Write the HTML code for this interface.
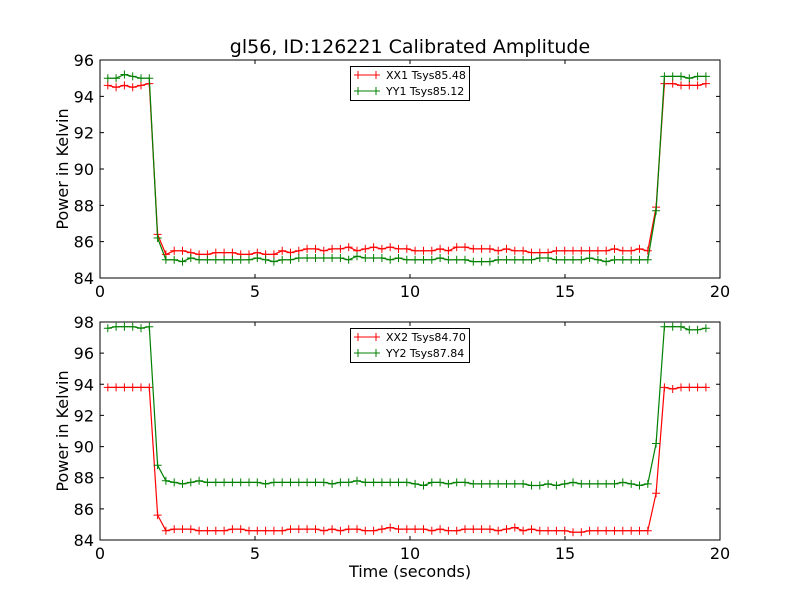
<!DOCTYPE html>
<html><head><meta charset="utf-8"><style>
body{margin:0;background:#fff}
svg{display:block;font-family:"DejaVu Sans","Liberation Sans",sans-serif}
</style></head><body>
<svg id="c" width="800" height="600">
<rect width="800" height="600" fill="#fff"/>
</svg>
<script>
// sampling grid (seconds)
const sampleStart = 0.25, sampleStep = 0.268, sampleCount = 73;
const xx1 = [94.6,94.5,94.6,94.5,94.6,94.7,86.4,
85.3,85.5,85.5,85.4,85.3,85.3,85.4,85.4,85.4,85.3,
85.3,85.4,85.3,85.3,85.5,85.4,85.5,85.6,85.6,85.5,
85.6,85.6,85.7,85.5,85.6,85.7,85.6,85.7,85.6,85.6,
85.5,85.5,85.5,85.6,85.5,85.7,85.7,85.6,85.6,85.6,
85.5,85.6,85.5,85.5,85.4,85.4,85.4,85.5,85.5,85.5,
85.5,85.5,85.5,85.5,85.6,85.5,85.5,85.6,85.5,
87.9,94.7,94.7,94.6,94.6,94.6,94.7];
const yy1 = [95.0,95.0,95.2,95.1,95.0,95.0,86.2,
85.0,85.0,84.9,85.1,85.0,85.0,85.0,85.0,85.0,85.0,
85.0,85.1,85.0,84.9,85.0,85.0,85.1,85.1,85.1,85.1,
85.1,85.1,85.0,85.2,85.1,85.1,85.1,85.0,85.1,85.0,
85.0,85.0,85.0,85.1,85.0,85.0,85.0,84.9,84.9,84.9,
85.0,85.0,85.0,85.0,85.0,85.1,85.1,85.0,85.0,85.0,
85.0,85.1,85.0,84.9,85.0,85.0,85.0,85.0,85.0,
87.7,95.1,95.1,95.1,95.0,95.1,95.1];
const xx2 = [93.8,93.8,93.8,93.8,93.8,93.8,85.6,
84.6,84.7,84.7,84.7,84.6,84.6,84.6,84.6,84.7,84.7,
84.6,84.6,84.6,84.6,84.6,84.7,84.7,84.7,84.7,84.6,
84.7,84.6,84.7,84.7,84.6,84.6,84.7,84.8,84.7,84.7,
84.7,84.7,84.6,84.7,84.6,84.6,84.7,84.7,84.7,84.7,
84.6,84.7,84.8,84.6,84.7,84.6,84.6,84.6,84.6,84.5,
84.5,84.6,84.6,84.6,84.6,84.6,84.6,84.6,84.6,
87.0,93.8,93.7,93.8,93.8,93.8,93.8];
const yy2 = [97.6,97.7,97.7,97.7,97.6,97.7,88.8,
87.8,87.7,87.6,87.7,87.8,87.7,87.7,87.7,87.7,87.7,
87.7,87.7,87.6,87.7,87.7,87.7,87.7,87.7,87.7,87.7,
87.6,87.7,87.7,87.8,87.7,87.7,87.7,87.7,87.7,87.7,
87.6,87.5,87.7,87.7,87.6,87.7,87.7,87.6,87.6,87.6,
87.6,87.6,87.6,87.6,87.5,87.5,87.6,87.5,87.6,87.7,
87.6,87.6,87.6,87.6,87.6,87.7,87.6,87.5,87.6,
90.2,97.7,97.7,97.7,97.5,97.5,97.6];
const xTicks = [0,5,10,15,20];
const topTicks = [84,86,88,90,92,94,96];
const botTicks = [84,86,88,90,92,94,96,98];
const legendTop = ["XX1 Tsys85.48","YY1 Tsys85.12"];
const legendBot = ["XX2 Tsys84.70","YY2 Tsys87.84"];

const svg = document.getElementById('c');
const NS = 'http://www.w3.org/2000/svg';
function mk(tag, attrs, parent){
  const e = document.createElementNS(NS, tag);
  for (const k in attrs) e.setAttribute(k, attrs[k]);
  (parent||svg).appendChild(e); return e;
}
function txt(s, x, y, size, anchor, parent, name){
  const t = mk('text', {x:x, y:y, 'font-size':size, 'text-anchor':anchor||'middle', fill:'#000'}, parent);
  t.textContent = s;
  
  
  return t;
}
const times = [];
for (let i = 0; i < sampleCount; i++) times.push(sampleStart + i*sampleStep);

function panel(name, top, bottom, ymin, ymax, yt, series, legend, showXLabel){
  const L = 100, R = 720;
  const g = mk('g', {});
  
  
  const xs = v => L + (v - 0)/(20 - 0)*(R - L);
  const ys = v => bottom - (v - ymin)/(ymax - ymin)*(bottom - top);
  // series
  series.forEach(s => {
    const sg = mk('g', {}, g);
    
    
    let d = '';
    s.vals.forEach((v, i) => { d += (i ? 'L' : 'M') + xs(times[i]).toFixed(1) + ',' + ys(v).toFixed(1); });
    mk('path', {d:d, fill:'none', stroke:s.color, 'stroke-width':1.2}, sg);
    let m = '';
    s.vals.forEach((v, i) => {
      const x = xs(times[i]), y = ys(v);
      m += `M${(x-4).toFixed(1)},${y.toFixed(1)}h8M${x.toFixed(1)},${(y-4).toFixed(1)}v8`;
    });
    mk('path', {d:m, fill:'none', stroke:s.color, 'stroke-width':1}, sg);
  });
  // frame
  const fr = mk('rect', {x:L, y:top, width:R-L, height:bottom-top, fill:'none', stroke:'#000', 'stroke-width':1}, g);
  
  
  xTicks.forEach(t => {
    const x = xs(t);
    mk('path', {d:`M${x},${bottom}v-4M${x},${top}v4`, stroke:'#000'}, g);
    txt(String(t), x, bottom + 19, 16, 'middle', g, 'x-tick-label');
  });
  yt.forEach(t => {
    const y = ys(t);
    mk('path', {d:`M${L},${y}h4M${R},${y}h-4`, stroke:'#000'}, g);
    txt(String(t), L - 6, y + 6, 16, 'end', g, 'y-tick-label');
  });
  const yl = txt('Power in Kelvin', 0, 0, 16, 'middle', g, 'y-axis-title');
  yl.setAttribute('transform', `translate(68,${(top+bottom)/2}) rotate(-90)`);
  if (showXLabel) txt('Time (seconds)', 410, 577, 16, 'middle', g, 'x-axis-title');
  // legend
  const lg = mk('g', {}, g);
  
  
  const ly = top + 6;
  mk('rect', {x:350.5, y:ly+0.5, width:119, height:34, fill:'#fff', stroke:'#000'}, lg);
  legend.forEach((l, i) => {
    const y = ly + 9 + i*16;
    const c = series[i].color;
    const e = mk('g', {}, lg);
    
    
    mk('path', {d:`M354,${y}h26M358,${y-4}v8M376,${y-4}v8`, stroke:c, 'stroke-width':1}, e);
    txt(l, 386, y + 4, 11, 'start', e, 'legend-label');
  });
}
txt('gl56, ID:126221 Calibrated Amplitude', 410, 53, 19, 'middle', svg, 'chart-title');
panel('top-panel', 60, 278, 84, 96, topTicks,
  [{name:'series-xx1', vals:xx1, color:'#ff0000'}, {name:'series-yy1', vals:yy1, color:'#008000'}], legendTop, false);
panel('bottom-panel', 322, 540, 84, 98, botTicks,
  [{name:'series-xx2', vals:xx2, color:'#ff0000'}, {name:'series-yy2', vals:yy2, color:'#008000'}], legendBot, true);
</script>
</body></html>
